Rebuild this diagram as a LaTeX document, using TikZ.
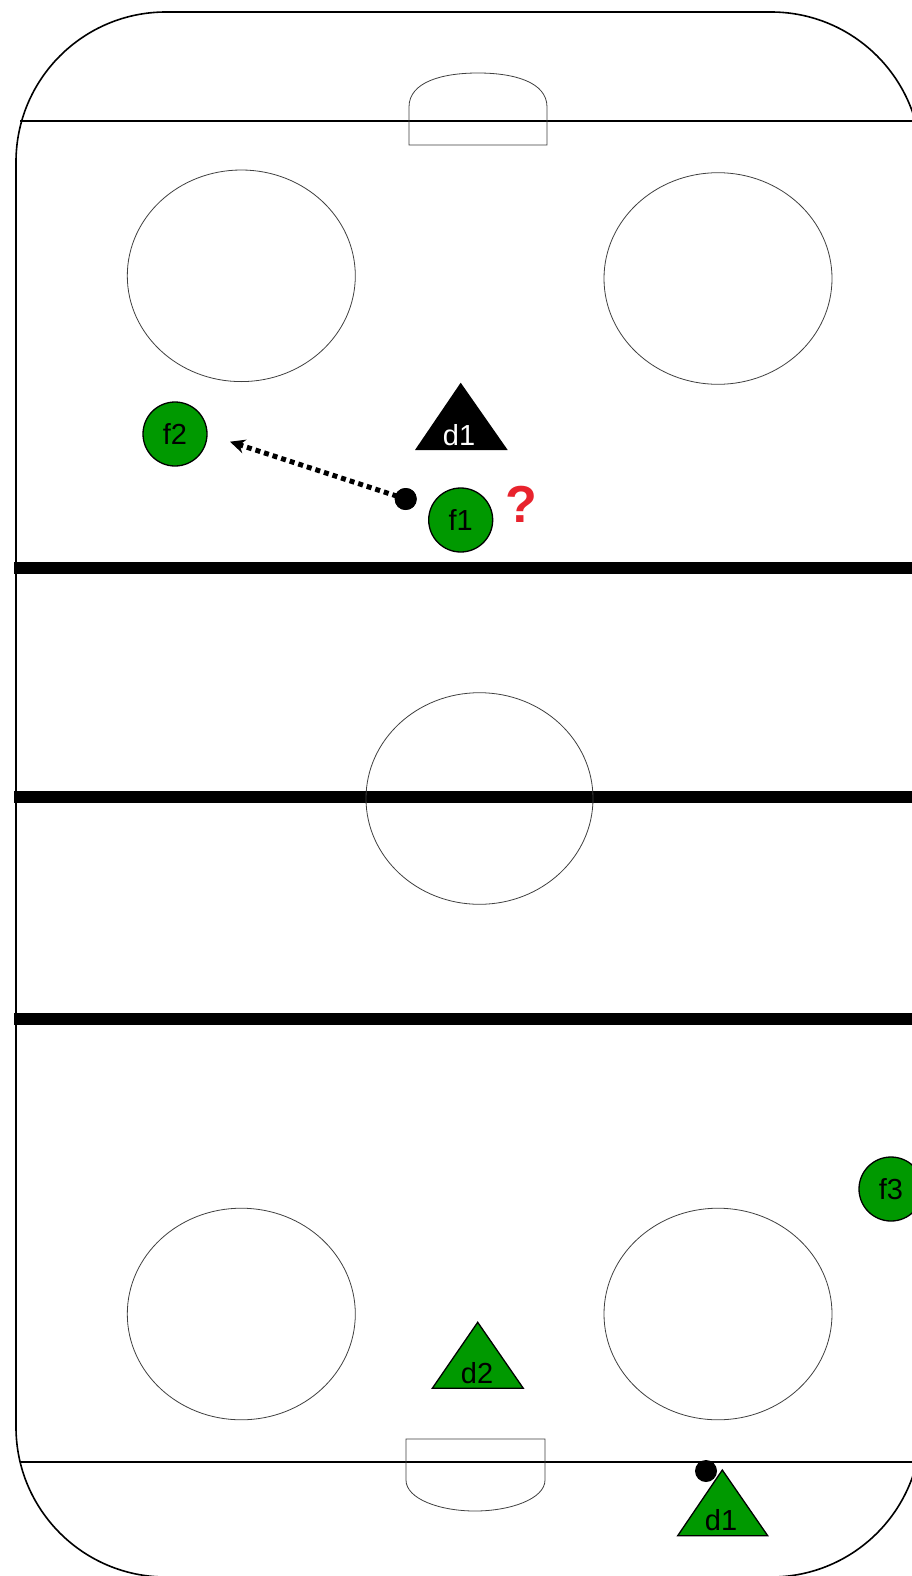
\documentclass[tikz,border=0pt]{standalone}
\usepackage{fontspec}
\setmainfont{Liberation Sans}
\usetikzlibrary{arrows.meta}
\definecolor{pgreen}{RGB}{0,153,0}
\definecolor{qred}{RGB}{232,35,45}
\tikzset{
  rinkline/.style={line width=1.6pt, black},
  goalline/.style={line width=2.2pt, black},
  bigline/.style={line width=12pt, black},
  thinring/.style={line width=0.8pt, black!75},
  player/.style={circle, draw=black, line width=1.3pt, fill=pgreen, minimum size=64pt, inner sep=0pt, font=\fontsize{29}{33}\selectfont},
  tri/.style={draw=black, line width=1.3pt, line join=miter},
  trilabel/.style={anchor=base, inner sep=0pt, font=\fontsize{29}{33}\selectfont},
  puck/.style={circle, fill=black, minimum size=22pt, inner sep=0pt},
  passarrow/.style={line width=5pt, dash pattern=on 5pt off 4pt, -{Stealth[length=15pt,width=14pt]}},
}
\begin{document}
\begin{tikzpicture}[x=1pt,y=-1pt]
\useasboundingbox (0,0) rectangle (912,1576);
\fill[white] (0,0) rectangle (912,1576);
\clip (0,0) rectangle (912,1576);
% rink outline
\draw[rinkline, rounded corners=150pt] (16,12) rectangle (921,1577);
% goal lines
\draw[goalline] (20,120.7) -- (912,120.7);
\draw[goalline] (20,1462) -- (912,1462);
% blue lines and centre line
\draw[bigline] (14,568) -- (912,568);
\draw[bigline] (14,797) -- (912,797);
\draw[bigline] (14,1019) -- (912,1019);
% creases
\draw[thinring] (409,145) -- (409,107) .. controls (409,82) and (442,73) .. (478,73) .. controls (514,73) and (547,82) .. (547,107) -- (547,145) -- cycle;
\draw[thinring] (406,1439) -- (406,1480) .. controls (406,1499) and (440,1511) .. (475,1511) .. controls (510,1511) and (545,1499) .. (545,1480) -- (545,1439) -- cycle;
% face-off circles
\draw[thinring] (241.3,275.8) ellipse [x radius=114, y radius=105.8];
\draw[thinring] (718,278.5) ellipse [x radius=114, y radius=105.8];
\draw[thinring] (479.5,798.5) ellipse [x radius=113.5, y radius=105.8];
\draw[thinring] (241.3,1314) ellipse [x radius=114, y radius=105.8];
\draw[thinring] (718,1314) ellipse [x radius=114, y radius=105.8];
% players
\node[player] (f2) at (175,434) {f2};
\node[player] (f1) at (460.7,520) {f1};
\node[player] (f3) at (891,1189) {f3};
% black defender
\fill[black] (460.7,382.7) -- (415,450) -- (507.7,450) -- cycle;
\node[trilabel, text=white] (d1top) at (459,445) {d1};
% green defenders
\filldraw[tri, fill=pgreen] (477.7,1322.3) -- (432.3,1388.3) -- (523.3,1388.3) -- cycle;
\node[trilabel] (d2) at (477,1383.3) {d2};
\filldraw[tri, fill=pgreen] (722.3,1470) -- (677.7,1535.7) -- (767.7,1535.7) -- cycle;
\node[trilabel] (d1bot) at (721,1530) {d1};
% pucks
\node[puck] (p1) at (405.7,499) {};
\node[puck] (p2) at (706,1471) {};
% pass
\coordinate (passend) at (230,441.7);
\draw[passarrow] (p1.center) -- (passend);
\fill[black] (p1) circle (11pt);
% question mark
\node[text=qred, font=\fontsize{52}{56}\selectfont\bfseries, inner sep=0pt] (q) at (521.7,504) {?};
\end{tikzpicture}
\end{document}
